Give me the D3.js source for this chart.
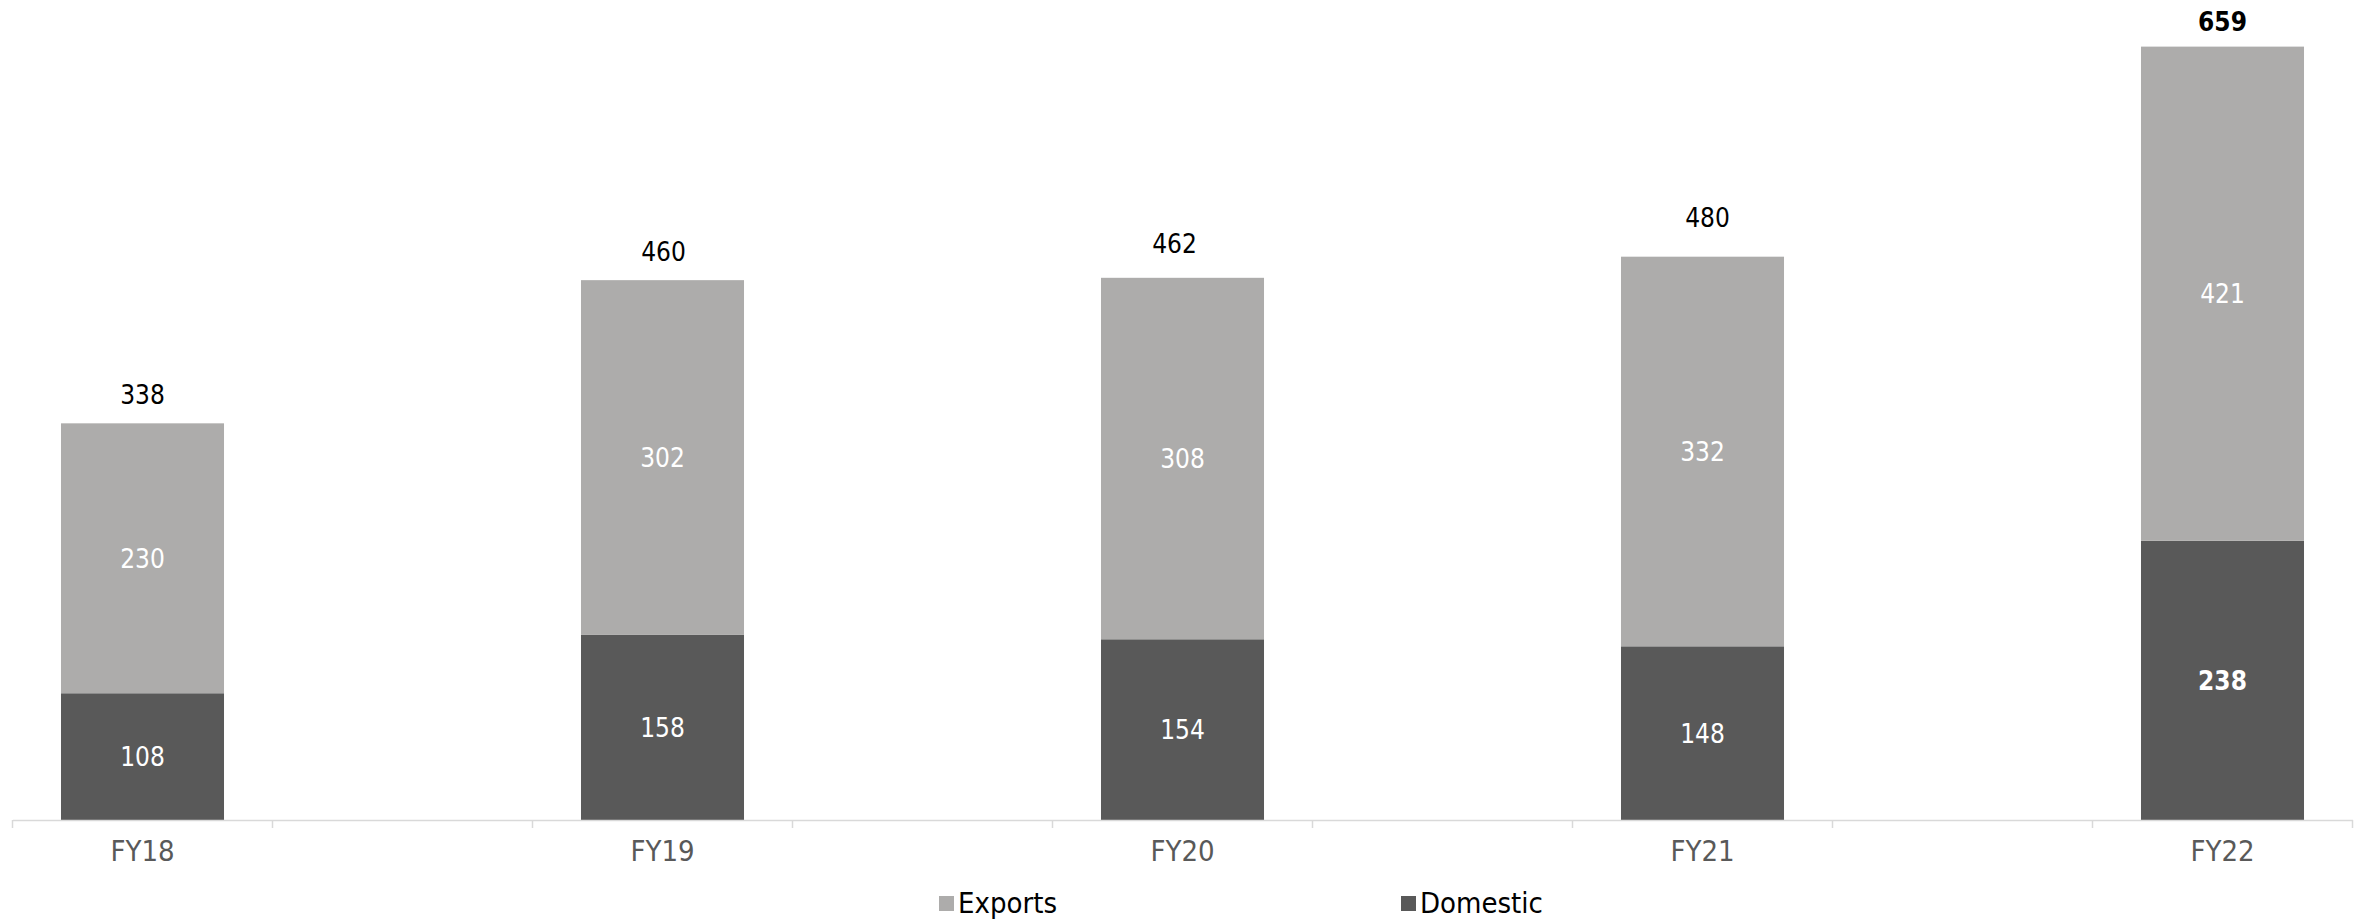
<!DOCTYPE html>
<html>
<head>
<meta charset="utf-8">
<script src="https://cdn.jsdelivr.net/npm/d3@7/dist/d3.min.js"></script>
<style>
  html, body { margin: 0; padding: 0; background: #ffffff; }
  svg { display: block; }
  text { font-family: "DejaVu Sans Condensed", "DejaVu Sans", sans-serif; font-stretch: condensed; }
</style>
</head>
<body>
<svg id="chart" width="2359" height="920"></svg>
<script>
// Sales volume by financial year, split into domestic and export
const categories = ["FY18", "FY19", "FY20", "FY21", "FY22"];
const domestic   = [108, 158, 154, 148, 238];
const exportsVol = [230, 302, 308, 332, 421];
const totals     = [338, 460, 462, 480, 659];
const seriesNames = ["Exports", "Domestic"];
const boldCategory = "FY22";

const colors = { Exports: "#adacab", Domestic: "#595959" };

// Hand-placed nudges for the total labels (gap above bar, horizontal shift)
const totalLabelGap   = [19, 19, 25, 30, 16];
const totalLabelShift = [0, 1, -8, 5, 0];

const svg = d3.select("#chart");

// Each year sits in its own slot with an empty slot between years
const slots = [];
categories.forEach((c, i) => {
  slots.push(c);
  if (i < categories.length - 1) slots.push("_gap" + i);
});

const x = d3.scaleBand().domain(slots).range([12.5, 2352.5]).paddingInner(0).paddingOuter(0);
const y = d3.scaleLinear().domain([0, 700]).range([820, -1.5]);

const barW = x.bandwidth() * 0.627;
const cx = c => x(c) + x.bandwidth() / 2;

const rows = categories.map((c, i) => ({
  cat: c, idx: i, Domestic: domestic[i], Exports: exportsVol[i], total: totals[i]
}));

const stack = d3.stack().keys(["Domestic", "Exports"]);
const layers = stack(rows);

// Stacked bars
const g = svg.append("g");
layers.forEach(layer => {
  g.selectAll(null)
    .data(layer)
    .enter().append("rect")
    .attr("x", d => cx(d.data.cat) - barW / 2)
    .attr("width", barW)
    .attr("y", d => y(d[1]))
    .attr("height", d => y(d[0]) - y(d[1]))
    .attr("fill", colors[layer.key]);
});

// Segment value labels
layers.forEach(layer => {
  g.selectAll(null)
    .data(layer)
    .enter().append("text")
    .attr("x", d => cx(d.data.cat))
    .attr("y", d => (y(d[0]) + y(d[1])) / 2)
    .attr("dy", "0.36em")
    .attr("text-anchor", "middle")
    .attr("font-size", 26)
    .attr("font-weight", d => (d.data.cat === boldCategory && layer.key === "Domestic") ? "bold" : "normal")
    .attr("fill", "#ffffff")
    .text(d => d.data[layer.key]);
});

// Totals above bars
g.selectAll(null)
  .data(rows)
  .enter().append("text")
  .attr("x", d => cx(d.cat) + totalLabelShift[d.idx])
  .attr("y", d => y(d.total) - totalLabelGap[d.idx])
  .attr("text-anchor", "middle")
  .attr("font-size", 26)
  .attr("font-weight", d => d.cat === boldCategory ? "bold" : "normal")
  .attr("fill", "#000000")
  .text(d => d.total);

// Category axis
const axis = svg.append("g")
  .attr("transform", `translate(0,${y(0)})`)
  .call(d3.axisBottom(x).tickSize(0).tickPadding(20).tickFormat(s => categories.includes(s) ? s : ""));
axis.select(".domain").attr("stroke", "#d9d9d9").attr("stroke-width", 1.5);
axis.selectAll(".tick text")
  .attr("font-size", 29)
  .attr("fill", "#595959")
  .attr("font-family", null);

// Slot boundary tick marks
const bounds = slots.map(s => x(s)).concat([x(slots[slots.length - 1]) + x.bandwidth()]);
axis.selectAll(".bound")
  .data(bounds)
  .enter().append("line")
  .attr("class", "bound")
  .attr("x1", d => d).attr("x2", d => d)
  .attr("y1", 0).attr("y2", 8)
  .attr("stroke", "#d9d9d9")
  .attr("stroke-width", 1.5);

// Legend
const legendX = [939, 1401];
const legend = svg.append("g").attr("transform", "translate(0,913)");
seriesNames.forEach((name, i) => {
  legend.append("rect")
    .attr("x", legendX[i]).attr("y", -17)
    .attr("width", 15).attr("height", 15)
    .attr("fill", colors[name]);
  legend.append("text")
    .attr("x", legendX[i] + 19).attr("y", 0)
    .attr("font-size", 29)
    .attr("fill", "#000000")
    .text(name);
});
</script>
</body>
</html>
